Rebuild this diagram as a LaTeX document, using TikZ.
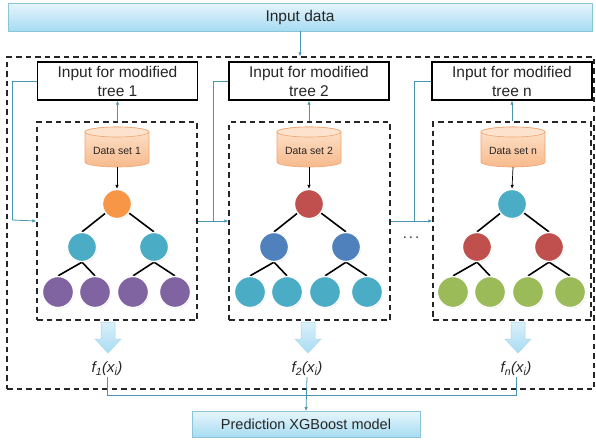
\documentclass[tikz,border=0pt]{standalone}
\usepackage{fontspec}
\setmainfont{Liberation Sans}
\usetikzlibrary{calc,shadows,arrows.meta,backgrounds}
\definecolor{boxtop}{HTML}{E6F5FC}
\definecolor{boxbot}{HTML}{A6DBF2}
\definecolor{boxedge}{HTML}{8CC4DA}
\definecolor{conn}{HTML}{4A96AE}
\definecolor{cylA}{HTML}{FDE3CD}
\definecolor{cylB}{HTML}{F8BA8C}
\definecolor{cyledge}{HTML}{EFA572}
\definecolor{corange}{HTML}{F79646}
\definecolor{caqua}{HTML}{4BACC6}
\definecolor{cpurple}{HTML}{8064A2}
\definecolor{cred}{HTML}{C0504D}
\definecolor{cblue}{HTML}{4F81BD}
\definecolor{cgreen}{HTML}{9BBB59}
\definecolor{arrtop}{HTML}{D9F0FB}
\definecolor{arrbot}{HTML}{A9DCF3}
\definecolor{arredge}{HTML}{A8D6EC}

\newcommand\drawtree[5]{%
  \node[tnode, fill=#3] (#1r) at (#2,-204) {};
  \node[tnode, fill=#4] (#1a) at (#2-35,-247) {};
  \node[tnode, fill=#4] (#1b) at (#2+37,-247) {};
  \node[lnode, fill=#5] (#1c) at (#2-59,-292) {};
  \node[lnode, fill=#5] (#1d) at (#2-22,-292) {};
  \node[lnode, fill=#5] (#1e) at (#2+16,-292) {};
  \node[lnode, fill=#5] (#1f) at (#2+58,-292) {};
  \begin{scope}[on background layer]
    \draw[edge] (#1r.center) -- (#1a.north);
    \draw[edge] (#1r.center) -- (#1b.north);
    \draw[edge] (#1a.south) -- (#1c.north);
    \draw[edge] (#1a.south) -- (#1d.north);
    \draw[edge] (#1b.south) -- (#1e.north);
    \draw[edge] (#1b.south) -- (#1f.north);
  \end{scope}
}
\newcommand\drawcyl[4]{%
  \node[minimum width=64, minimum height=40, inner sep=0pt] (#1) at (#2,-147) {};
  \path[draw=cyledge, line width=0.6pt, top color=cylA, bottom color=cylB]
    (#2-32,-132) -- (#2-32,-162)
    arc[start angle=180, end angle=360, x radius=32, y radius=5]
    -- (#2+32,-132)
    arc[start angle=0, end angle=180, x radius=32, y radius=5] -- cycle;
  \path[draw=cyledge, line width=0.6pt, fill=cylA] (#2,-132) ellipse [x radius=32, y radius=5];
  \node[font=\fontsize{10.5}{12}\selectfont, text=black!85] (#1t) at (#2,-151) {#3};
  \draw[darrow] (#1.south) -- (#4.north);
}
\newcommand\blockarrow[1]{%
  \path[draw=arredge, line width=0.5pt, top color=arrtop, bottom color=arrbot]
    (#1-7,-322) -- (#1+7,-322) -- (#1+7,-339) -- (#1+13,-339) -- (#1,-353)
    -- (#1-13,-339) -- (#1-7,-339) -- cycle;
}

\begin{document}
\begin{tikzpicture}[x=1pt,y=1pt,
  gradbox/.style={draw=boxedge, line width=0.8pt, top color=boxtop, bottom color=boxbot,
    inner sep=0pt, text=black!85},
  treebox/.style={draw=black, line width=1.3pt, fill=white, minimum width=160,
    minimum height=38, inner sep=0pt, align=center,
    font=\fontsize{15.5}{19}\selectfont, text=black!85},
  dashbox/.style={draw=black!85, line width=1.3pt, dash pattern=on 5.5pt off 4pt, inner sep=0pt},
  tnode/.style={circle, minimum size=29, inner sep=0pt, draw=white, line width=1.3pt,
    drop shadow={shadow xshift=0.6pt, shadow yshift=-0.8pt, opacity=0.3}},
  lnode/.style={tnode, minimum size=31},
  edge/.style={draw=black, line width=1.6pt},
  darrow/.style={draw=black, line width=0.7pt, -{Latex[length=4pt,width=3.5pt]}},
  cline/.style={draw=conn, line width=0.8pt},
  carrow/.style={cline, -{Latex[length=4pt,width=3.5pt]}},
  flab/.style={font=\fontsize{15}{18}\selectfont\itshape, text=black!85, inner sep=1pt}
]
\useasboundingbox (0,0) rectangle (596,-442);
\begin{scope}[on background layer]
\fill[white] (0,0) rectangle (596,-442);
\end{scope}

% top input
\node[gradbox, minimum width=584, minimum height=28, font=\fontsize{15.5}{18}\selectfont]
  (indata) at (300,-17) {Input data};

% outer dashed box
\node[dashbox, minimum width=587, minimum height=332] (outer) at (300.5,-223) {};

% tree input boxes
\node[treebox] (t1) at (117.5,-81) {Input for modified\\tree 1};
\node[treebox] (t2) at (309,-81) {Input for modified\\tree 2};
\node[treebox] (t3) at (512,-81) {Input for modified\\tree n};

% inner dashed boxes
\node[dashbox, minimum width=160, minimum height=198] (in1) at (117,-221) {};
\node[dashbox, minimum width=161, minimum height=198] (in2) at (309.5,-221) {};
\node[dashbox, minimum width=158, minimum height=198] (in3) at (512,-221) {};

% trees
\drawtree{p}{117}{corange}{caqua}{cpurple}
\drawtree{q}{309}{cred}{cblue}{caqua}
\drawtree{s}{512}{caqua}{cred}{cgreen}

% data sets
\drawcyl{d1}{117}{Data set 1}{pr}
\drawcyl{d2}{309}{Data set 2}{qr}
\drawcyl{d3}{513}{Data set n}{sr}

% blue connectors
\draw[carrow] (indata.south) -- (indata.south |- outer.north);
\draw[carrow] (in1.north -| t1.south) -- (t1.south);
\draw[carrow] (in2.north -| t2.south) -- (t2.south);
\draw[carrow] (in3.north -| t3.south) -- (t3.south);

\coordinate (k1) at (12,-220);
\draw[cline] (t1.west) -| (k1);
\draw[carrow] (k1) -- (in1.west);
\draw[carrow] (in1.east) -- (in2.west);
\draw[cline] (t2.west) -| ($(in1.east)!0.5!(in2.west)$);
\draw[carrow] (in2.east) -- (in3.west);
\draw[cline] (t3.west) -| ($(in2.east)!0.58!(in3.west)$);

\node[font=\fontsize{15}{16}\selectfont, text=black!80] (dots) at (411,-238) {.\hspace{2pt}.\hspace{2pt}.};

% block arrows and outputs
\blockarrow{108}
\blockarrow{308}
\blockarrow{518}
\node[flab] (f1) at (107,-369) {f\textsubscript{1}(x\textsubscript{i})};
\node[flab] (f2) at (307,-369) {f\textsubscript{2}(x\textsubscript{i})};
\node[flab] (fn) at (516,-369) {f\textsubscript{n}(x\textsubscript{i})};

% prediction box
\node[gradbox, minimum width=228, minimum height=26, font=\fontsize{14.5}{17}\selectfont]
  (pred) at (306,-424.5) {Prediction XGBoost model};

\coordinate (j) at (307,-395);
\draw[cline] (f1.south) |- (fn.south |- j) -- (fn.south);
\draw[carrow] (f2.south) -- (pred.north);
\end{tikzpicture}
\end{document}
